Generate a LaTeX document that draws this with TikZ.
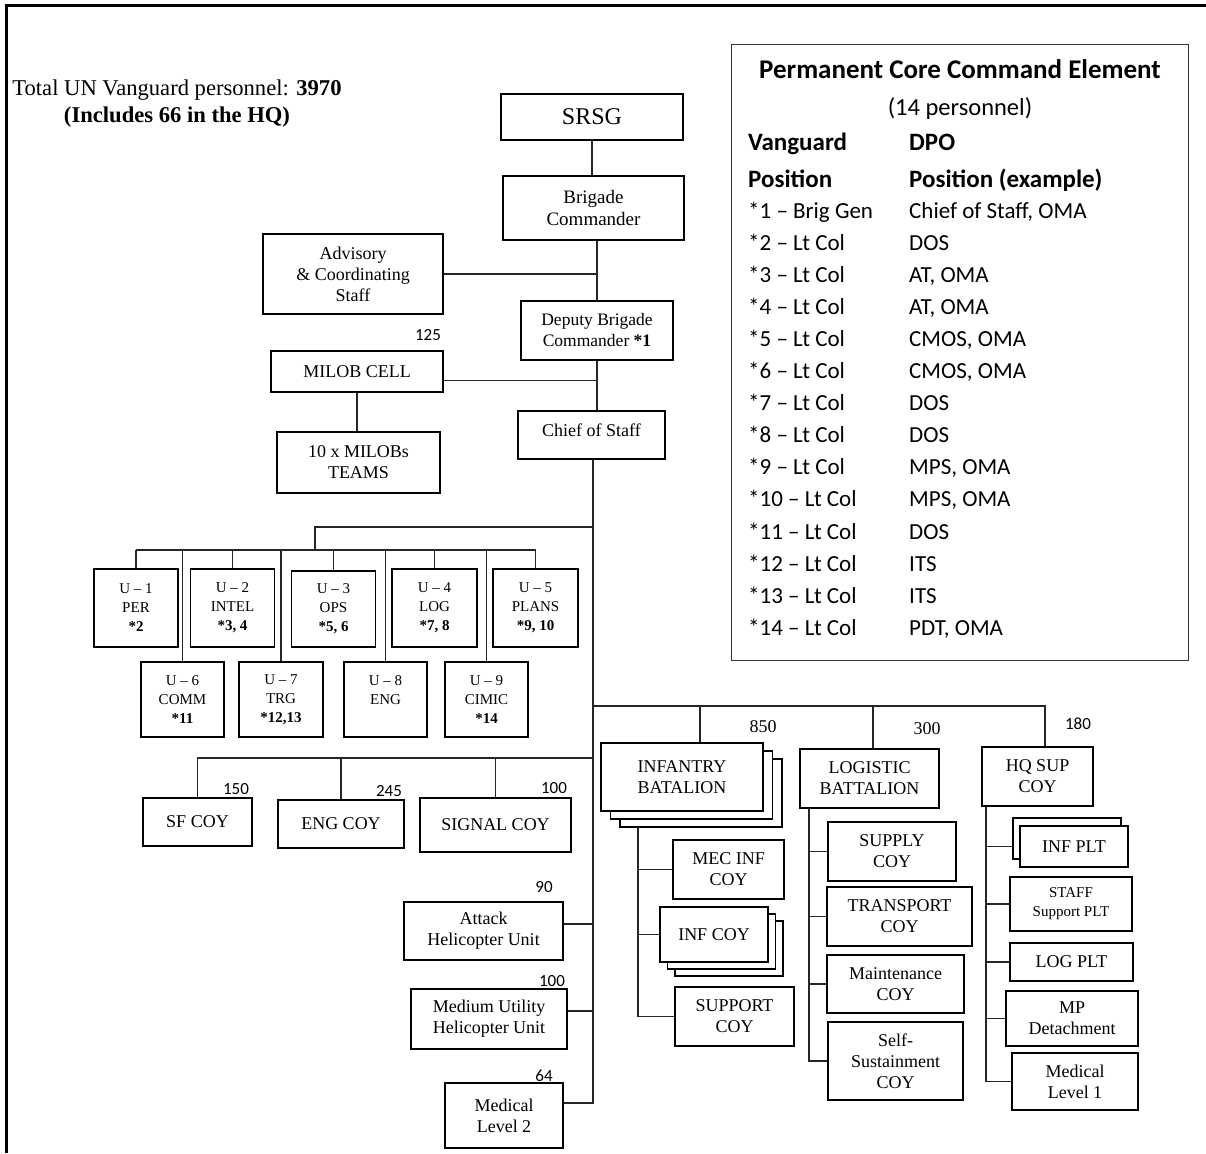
\documentclass[tikz,border=0pt]{standalone}
\usepackage{fontspec}
\setmainfont{Liberation Serif}
\newfontfamily\legendfont{Carlito}
\usetikzlibrary{shadows}
\tikzstyle{unit}=[draw,%
                  rectangle,%
                  fill=white,%
                  line width=1.2pt,%
                  align=center,%
                  inner sep=1pt,%
                  font=\fontsize{18}{21}\selectfont]
\tikzstyle{cell}=[unit, font=\fontsize{15}{19}\selectfont]
\tikzstyle{strength}=[font=\legendfont\fontsize{17}{20}\selectfont]
\tikzstyle{link}=[line width=1.2pt, black!85]
\tikzstyle{coretxt}=[anchor=base west, inner sep=0pt, font=\legendfont\fontsize{23}{27}\selectfont]
\tikzstyle{corehead}=[anchor=base west, inner sep=0pt, font=\legendfont\bfseries\fontsize{25}{29}\selectfont]

\begin{document}
\begin{tikzpicture}[x=1pt, y=-1pt]
  \useasboundingbox (0,0) rectangle (1206,1153);
  \draw[line width=2.2pt] (1206,5.5) -- (6.5,5.5) -- (6.5,1153);

  \node[align=center, font=\fontsize{22.6}{27}\selectfont] (total) at (177,104)
    {Total UN Vanguard personnel: \textbf{3970}\\\textbf{(Includes 66 in the HQ)}};

  % command group
  \node[unit, minimum width=182, minimum height=46, font=\fontsize{24}{28}\selectfont] (srsg) at (592,117) {SRSG};
  \node[unit, minimum width=181, minimum height=64, font=\fontsize{19}{22}\selectfont] (brig) at (593.5,208) {Brigade\\Commander};
  \node[unit, minimum width=180, minimum height=80] (adv) at (353,274) {Advisory\\\& Coordinating\\Staff};
  \node[unit, minimum width=152, minimum height=59, font=\fontsize{17.5}{21}\selectfont] (dep) at (597,330.5) {Deputy Brigade\\Commander \textbf{*1}};
  \node[unit, minimum width=172, minimum height=41] (milob) at (357,371.5) {MILOB CELL};
  \node[unit, minimum width=163, minimum height=61] (teams) at (358.5,462.5) {10 x MILOBs\\TEAMS};
  \node[unit, minimum width=147, minimum height=48, text depth=10pt] (chief) at (591.5,435) {Chief of Staff};
  \node[strength] (n125) at (428,335) {125};

  % staff branches
  \node[cell, minimum width=84, minimum height=78] (u1) at (136,608) {U – 1\\PER\\\textbf{*2}};
  \node[cell, minimum width=84, minimum height=78] (u2) at (232.5,608) {U – 2\\INTEL\\\textbf{*3, 4}};
  \node[cell, minimum width=84, minimum height=76] (u3) at (333.5,609) {U – 3\\OPS\\\textbf{*5, 6}};
  \node[cell, minimum width=85, minimum height=78] (u4) at (434.5,608) {U – 4\\LOG\\\textbf{*7, 8}};
  \node[cell, minimum width=85, minimum height=78] (u5) at (535.5,608) {U – 5\\PLANS\\\textbf{*9, 10}};
  \node[cell, minimum width=83, minimum height=75] (u6) at (182.5,699.5) {U – 6\\COMM\\\textbf{*11}};
  \node[cell, minimum width=84, minimum height=75] (u7) at (281,699.5) {U – 7\\TRG\\\textbf{*12,13}};
  \node[cell, minimum width=83, minimum height=75] (u8) at (385.5,699.5) {U – 8\\ENG\\\mbox{}};
  \node[cell, minimum width=83, minimum height=75] (u9) at (486.5,699.5) {U – 9\\CIMIC\\\textbf{*14}};

  % companies left of the trunk
  \node[unit, minimum width=109, minimum height=48] (sf) at (197.5,822) {SF COY};
  \node[unit, minimum width=126, minimum height=48] (eng) at (341,824) {ENG COY};
  \node[unit, minimum width=151, minimum height=54] (sig) at (495.5,825) {SIGNAL COY};
  \node[strength] (n150) at (236,789) {150};
  \node[strength] (n245) at (389,791) {245};
  \node[strength] (n100a) at (554,788) {100};
  \node[unit, minimum width=159, minimum height=58] (atk) at (483.5,931) {Attack\\Helicopter Unit};
  \node[unit, minimum width=156, minimum height=60] (med) at (489,1019) {Medium Utility\\Helicopter Unit};
  \node[unit, minimum width=118, minimum height=65] (ml2) at (504,1115.5) {Medical\\Level 2};
  \node[strength] (n90) at (544,887) {90};
  \node[strength] (n100b) at (552,981) {100};
  \node[strength] (n64) at (544,1076) {64};

  % infantry
  \node[unit, minimum width=162, minimum height=68,
        copy shadow={shadow xshift=19pt, shadow yshift=-16pt},
        copy shadow={shadow xshift=9.5pt, shadow yshift=-8pt}] (inf) at (682,777) {INFANTRY\\BATALION};
  \node[unit, minimum width=111, minimum height=59] (mec) at (728.5,869.5) {MEC INF\\COY};
  \node[unit, minimum width=108, minimum height=55,
        copy shadow={shadow xshift=15pt, shadow yshift=-14pt},
        copy shadow={shadow xshift=7.5pt, shadow yshift=-7pt}] (infc) at (714,934.5) {INF COY};
  \node[unit, minimum width=119, minimum height=59] (spt) at (734.5,1016.5) {SUPPORT\\COY};
  \node[font=\fontsize{18}{20}\selectfont] (n850) at (763,727) {850};

  % logistic
  \node[unit, minimum width=139, minimum height=59] (log) at (869.5,778.5) {LOGISTIC\\BATTALION};
  \node[unit, minimum width=128, minimum height=59] (sup) at (892,851.5) {SUPPLY\\COY};
  \node[unit, minimum width=145, minimum height=59] (trn) at (899.5,916.5) {TRANSPORT\\COY};
  \node[unit, minimum width=137, minimum height=58] (mnt) at (895.5,984) {Maintenance\\COY};
  \node[unit, minimum width=135, minimum height=78] (ssc) at (895.5,1061) {Self-\\Sustainment\\COY};
  \node[font=\fontsize{18}{20}\selectfont] (n300) at (927,729) {300};

  % hq support
  \node[unit, minimum width=111, minimum height=59] (hqs) at (1037.5,776.5) {HQ SUP\\COY};
  \node[unit, minimum width=108, minimum height=41,
        copy shadow={shadow xshift=-7pt, shadow yshift=8pt}] (ipl) at (1074,846.5) {INF PLT};
  \node[cell, minimum width=122, minimum height=54] (stf) at (1071,904) {STAFF\\Support PLT};
  \node[unit, minimum width=123, minimum height=38] (lpl) at (1071.5,962) {LOG PLT};
  \node[unit, minimum width=132, minimum height=55] (mpd) at (1072,1018.5) {MP\\Detachment};
  \node[unit, minimum width=126, minimum height=57] (ml1) at (1075,1081.5) {Medical\\Level 1};
  \node[strength] (n180) at (1078,724) {180};

  % junctions
  \coordinate (ujoin) at (593,527);
  \coordinate (ubend) at (315,527);
  \coordinate (ubus) at (315,550);
  \coordinate (rbus) at (593,706);
  \coordinate (lbus) at (593,758);
  \coordinate (atkj) at (593,924);
  \coordinate (medj) at (593,1011);
  \coordinate (ml2j) at (593,1103);
  \coordinate (infd) at ([xshift=18pt]inf.north);
  \coordinate (logd) at ([xshift=3.5pt]log.north);
  \coordinate (hqsd) at ([xshift=7.5pt]hqs.north);
  \coordinate (infs) at (638,827);
  \coordinate (logs) at (809,0);
  \coordinate (hqsl) at (986,0);

  \draw[link] (srsg.south) -- (srsg.south |- brig.north);
  \draw[link] (brig.south -| dep.north) -- (dep.north);
  \draw[link] (adv.east) -- (adv.east -| dep.north);
  \draw[link] ([yshift=-9pt]milob.east) -- ([yshift=-9pt]milob.east -| dep.north);
  \draw[link] (milob.south) -- (milob.south |- teams.north);
  \draw[link] (dep.south) -- (dep.south |- chief.north);
  \draw[link] (chief.south -| ujoin) -- (ml2j) -- (ml2j -| ml2.east);
  \draw[link] (ujoin) -- (ubend) -- (ubus);
  \draw[link] (u1.north |- ubus) -- (u5.north |- ubus);
  \foreach \u in {u1,u2,u3,u4,u5,u6,u7,u8,u9}
    \draw[link] (\u.north |- ubus) -- (\u.north);
  \draw[link] (lbus) -- (lbus -| sf.north) -- (sf.north);
  \draw[link] (lbus -| eng.north) -- (eng.north);
  \draw[link] (lbus -| sig.north) -- (sig.north);
  \draw[link] (atkj) -- (atkj -| atk.east);
  \draw[link] (medj) -- (medj -| med.east);
  \draw[link] (rbus) -- (rbus -| hqsd) -- (hqsd);
  \draw[link] (rbus -| infd) -- (infd);
  \draw[link] (rbus -| logd) -- (logd);
  \draw[link] (infs) |- (spt.west);
  \draw[link] (infs |- mec.west) -- (mec.west);
  \draw[link] (infs |- infc.west) -- (infc.west);
  \draw[link] (log.south -| logs) |- (ssc.west);
  \draw[link] (logs |- sup.west) -- (sup.west);
  \draw[link] (logs |- trn.west) -- (trn.west);
  \draw[link] (logs |- mnt.west) -- (mnt.west);
  \draw[link] (hqs.south -| hqsl) |- (ml1.west);
  \draw[link] (hqsl |- ipl.west) -- ([xshift=-7pt]ipl.west);
  \draw[link] (hqsl |- stf.west) -- (stf.west);
  \draw[link] (hqsl |- lpl.west) -- (lpl.west);
  \draw[link] (hqsl |- mpd.west) -- (mpd.west);

  % permanent core
  \node[draw, line width=1.2pt, black!80, minimum width=457, minimum height=616, anchor=north west] (core) at (731,44) {};
  \node[anchor=base, font=\legendfont\bfseries\fontsize{27}{32}\selectfont] (coretitle) at (960,78.5) {Permanent Core Command Element};
  \node[anchor=base, font=\legendfont\fontsize{24.5}{28}\selectfont] (corecount) at (960,116) {(14 personnel)};
  \node[corehead] (hvan) at (748,150) {Vanguard};
  \node[corehead] (hdpo) at (909,150) {DPO};
  \node[corehead] (hpos) at (748,187) {Position};
  \node[corehead] (hex) at (909,187) {Position (example)};
  \foreach \n/\r/\p [count=\i from 0] in {1/Brig Gen/{Chief of Staff, OMA}, 2/Lt Col/DOS,
      3/Lt Col/{AT, OMA}, 4/Lt Col/{AT, OMA}, 5/Lt Col/{CMOS, OMA}, 6/Lt Col/{CMOS, OMA},
      7/Lt Col/DOS, 8/Lt Col/DOS, 9/Lt Col/{MPS, OMA}, 10/Lt Col/{MPS, OMA},
      11/Lt Col/DOS, 12/Lt Col/ITS, 13/Lt Col/ITS, 14/Lt Col/{PDT, OMA}}
  {
    \node[coretxt] (v\n) at (748,{218+32.1*\i}) {*\n{} – \r};
    \node[coretxt] (d\n) at (909,{218+32.1*\i}) {\p};
  }
\end{tikzpicture}
\end{document}
